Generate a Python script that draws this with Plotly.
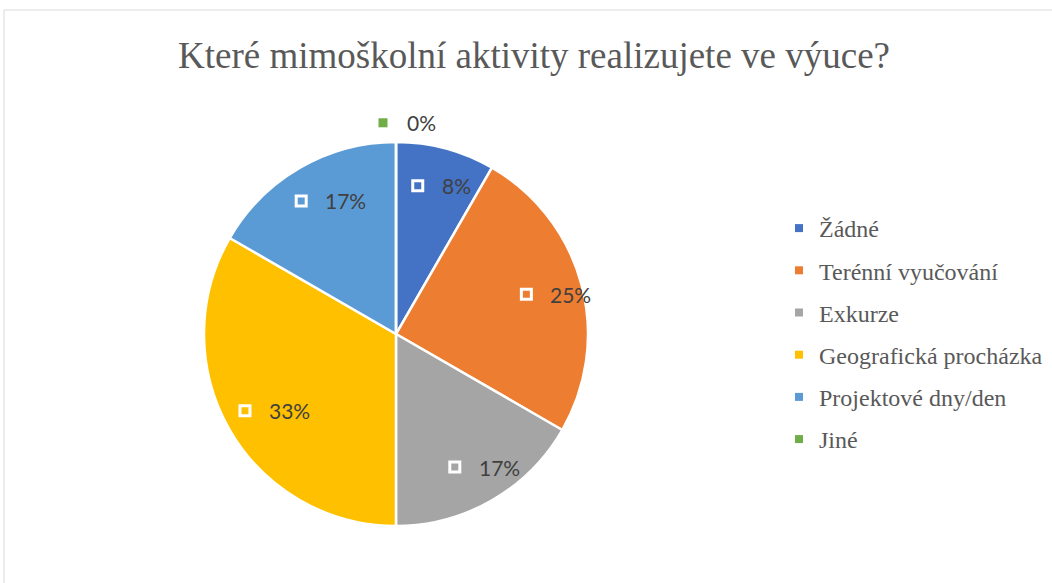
import math
import plotly.graph_objects as go

W, H = 1052, 583

categories = ["Žádné", "Terénní vyučování", "Exkurze", "Geografická procházka",
              "Projektové dny/den", "Jiné"]
counts = [1, 3, 2, 4, 2, 0]
colors = ["#4472C4", "#ED7D31", "#A5A5A5", "#FFC000", "#5B9BD5", "#70AD47"]
title = "Které mimoškolní aktivity realizujete ve výuce?"

SERIF = "'Liberation Serif', 'Times New Roman', Times, serif"

# pie geometry in pixels
cx, cy, R = 396, 334, 192

fig = go.Figure()
fig.add_trace(go.Pie(labels=categories, values=counts, sort=False,
                     direction="clockwise", rotation=0,
                     marker=dict(colors=colors, line=dict(color="white", width=2.5)),
                     textinfo="none", hoverinfo="label+percent", showlegend=False,
                     domain=dict(x=[(cx - R) / W, (cx + R) / W],
                                 y=[1 - (cy + R) / H, 1 - (cy - R) / H])))

# legend entries (separate groups so we get the wide Excel spacing)
for name, c in zip(categories, colors):
    fig.add_trace(go.Scatter(x=[None], y=[None], mode="markers", name=name,
                             legendgroup=name,
                             marker=dict(symbol="square", size=8, color=c)))

# data labels with the little key squares
shapes = [dict(type="rect", xref="paper", yref="paper", x0=4 / W, x1=1.02,
               y0=-0.02, y1=1 - 10 / H, line=dict(color="#D9D9D9", width=1))]
annotations = []
total = sum(counts)
cum = 0
for v, c in zip(counts, colors):
    frac = v / total
    mid = 2 * math.pi * (cum + frac / 2)
    cum += frac
    r = 0.8 * R if v else 1.1 * R
    gx = cx + r * math.sin(mid)
    gy = cy - r * math.cos(mid)
    if not v:
        gx += 5
    annotations.append(dict(x=(gx + 4) / W, y=1 - gy / H, xref="paper", yref="paper",
                            text=f"{round(100 * frac)}%", showarrow=False,
                            xanchor="left", yanchor="middle",
                            font=dict(family="Lato", size=21, color="#404040")))
    if v:
        sq = dict(x0=-5, x1=5, y0=-5, y1=5, fillcolor=c, line=dict(color="white", width=3))
    else:
        sq = dict(x0=-4.5, x1=4.5, y0=-4.5, y1=4.5, fillcolor=c, line=dict(width=0))
    shapes.append(dict(type="rect", xref="paper", yref="paper",
                       xsizemode="pixel", ysizemode="pixel",
                       xanchor=(gx - 18) / W, yanchor=1 - gy / H, layer="above", **sq))

fig.update_layout(
    width=W, height=H, margin=dict(l=0, r=0, t=0, b=0),
    paper_bgcolor="white", plot_bgcolor="white",
    xaxis=dict(visible=False), yaxis=dict(visible=False),
    title=dict(text=title, x=534 / W, y=1 - 55 / H, xanchor="center", yanchor="middle",
               font=dict(family=SERIF, size=37, color="#595959")),
    legend=dict(x=779 / W, y=1 - 206 / H, xanchor="left", yanchor="top",
                font=dict(family=SERIF, size=24, color="#595959"),
                tracegroupgap=8, bgcolor="rgba(0,0,0,0)"),
    shapes=shapes, annotations=annotations,
)

fig.write_html("out.html", config={"displayModeBar": False},
               post_script="document.body.style.margin='0';")
